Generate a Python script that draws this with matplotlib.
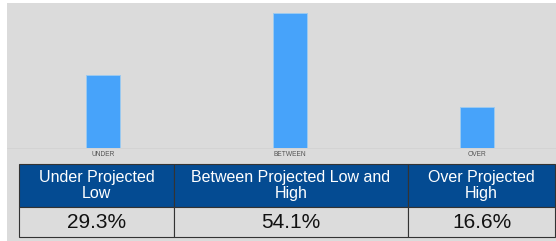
import matplotlib.pyplot as plt
from matplotlib.patches import Rectangle

categories = ['UNDER', 'BETWEEN', 'OVER']
shares = [29.3, 54.1, 16.6]
headers = ['Under Projected\nLow', 'Between Projected Low and\nHigh', 'Over Projected\nHigh']
share_labels = ['29.3%', '54.1%', '16.6%']

W, H = 556, 241
plt.rcParams['font.family'] = ['Liberation Sans', 'DejaVu Sans']

fig = plt.figure(figsize=(W / 100, H / 100), dpi=100)
fig.patch.set_facecolor('white')

# gray panel behind everything
fig.patches.append(Rectangle((7 / W, 0), (W - 7) / W, (H - 3) / H,
                             transform=fig.transFigure, facecolor='#dbdbdb',
                             edgecolor='none', zorder=-5))

# bar chart
ax = fig.add_axes([7 / W, (H - 148) / H, (W - 7) / W, 145 / H])
ax.set_facecolor('none')
x = range(len(categories))
ax.bar(x, shares, width=0.182, color='#47a3fa', edgecolor='#9ccaf0', linewidth=0.7)
ax.set_xlim(-0.513, 2.422)
ax.set_ylim(0, 145 / 2.495)
ax.set_xticks(list(x))
ax.set_xticklabels(categories, fontsize=4.8, color='#555555')
ax.tick_params(axis='x', length=0, pad=2.5)
ax.set_yticks([])
for s in ['top', 'left', 'right']:
    ax.spines[s].set_visible(False)
ax.spines['bottom'].set_color('#d2d2d2')
ax.spines['bottom'].set_linewidth(0.6)

# table
tx = fig.add_axes([19 / W, (H - 237) / H, (555 - 19) / W, 73 / H])
tx.axis('off')
col_w = [155, 234, 147]
tbl = tx.table(cellText=[share_labels], colLabels=headers,
               colWidths=[w / sum(col_w) for w in col_w],
               cellLoc='center', bbox=[0, 0, 1, 1])
tbl.auto_set_font_size(False)
for (r, c), cell in tbl.get_celld().items():
    cell.set_edgecolor('#333333')
    cell.set_linewidth(0.8)
    if r == 0:
        cell.set_height(43 / 73)
        cell.set_facecolor('#044b92')
        cell.get_text().set_color('white')
        cell.get_text().set_fontsize(11.5)
        cell.get_text().set_linespacing(1.1)
    else:
        cell.set_height(30 / 73)
        cell.set_facecolor('#dcdcdc')
        cell.get_text().set_color('#111111')
        cell.get_text().set_fontsize(15)

fig.savefig('out.png', dpi=100)
